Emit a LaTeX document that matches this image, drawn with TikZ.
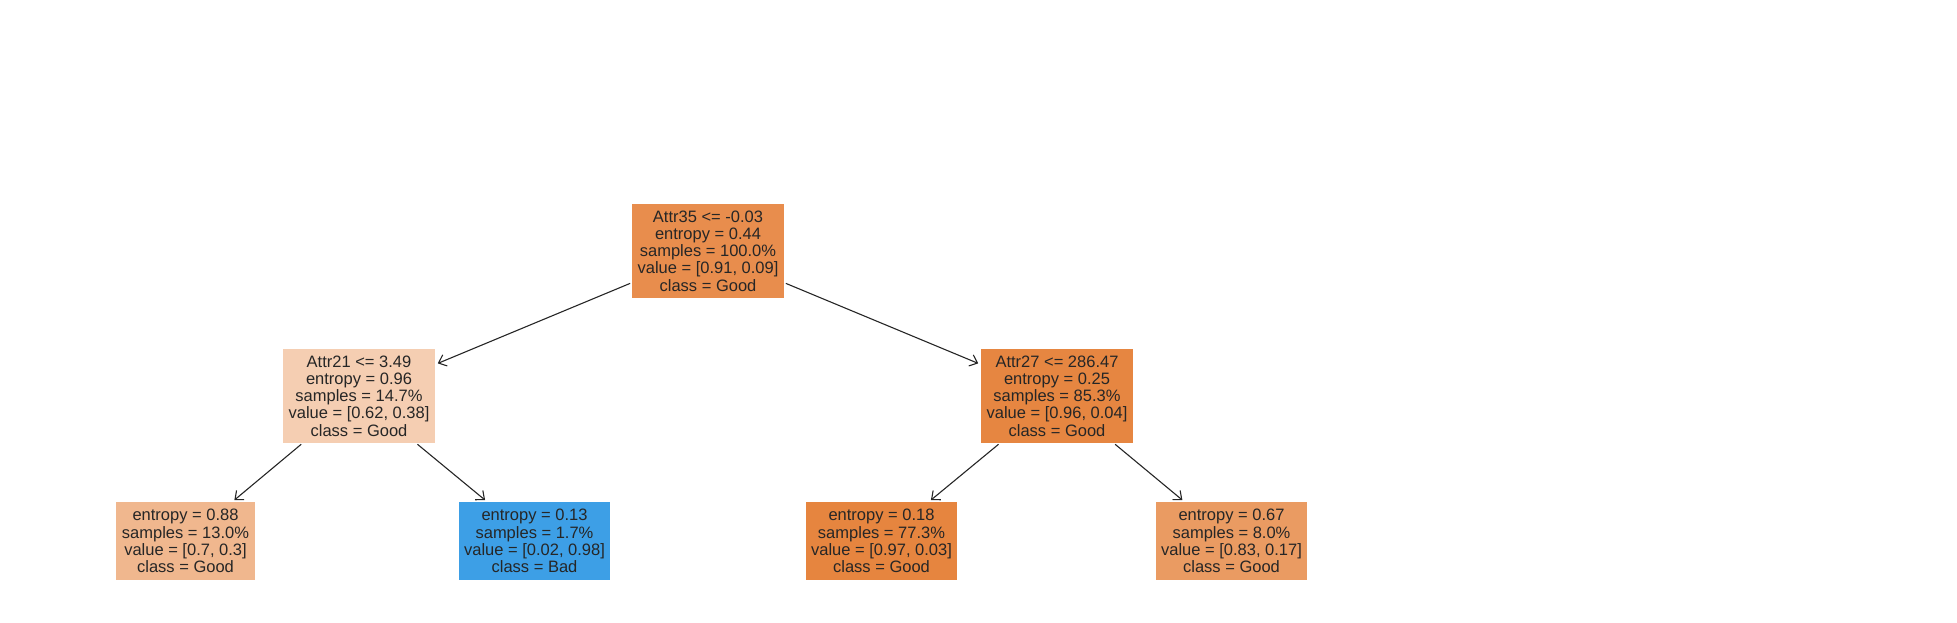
\documentclass[tikz,border=0pt]{standalone}
\usepackage{fontspec}
\setmainfont{Liberation Sans}
\usetikzlibrary{arrows.meta}
\definecolor{txt}{RGB}{38,38,38}
\definecolor{cRoot}{RGB}{232,141,77}
\definecolor{cA}{RGB}{245,206,178}
\definecolor{cB}{RGB}{230,134,65}
\definecolor{cLa}{RGB}{240,183,142}
\definecolor{cLb}{RGB}{61,159,230}
\definecolor{cLc}{RGB}{230,133,63}
\definecolor{cLd}{RGB}{234,155,98}
\begin{document}
\begin{tikzpicture}[x=1pt,y=-1pt,
  box/.style={draw=none, fill=#1, inner sep=0pt, outer sep=0pt, align=center,
    text=txt, font=\fontsize{16.5}{17.3}\selectfont,
    minimum width=152pt, minimum height=94pt},
  leaf/.style={box=#1, minimum height=78pt, minimum width=151pt},
  edge/.style={draw=txt, line width=1.1pt,
    -{Straight Barb[length=7pt,width=12pt]}, shorten >=3pt, shorten <=2pt}]
\useasboundingbox (0,0) rectangle (1957,623);
\node[box=cRoot] (root) at (708,251) {Attr35 <= -0.03\\entropy = 0.44\\samples = 100.0\%\\value = [0.91, 0.09]\\class = Good};
\node[box=cA] (a21) at (359,396) {Attr21 <= 3.49\\entropy = 0.96\\samples = 14.7\%\\value = [0.62, 0.38]\\class = Good};
\node[box=cB] (a27) at (1057,396) {Attr27 <= 286.47\\entropy = 0.25\\samples = 85.3\%\\value = [0.96, 0.04]\\class = Good};
\node[leaf=cLa, minimum width=139pt] (l1) at (185.5,541) {entropy = 0.88\\samples = 13.0\%\\value = [0.7, 0.3]\\class = Good};
\node[leaf=cLb] (l2) at (534.5,541) {entropy = 0.13\\samples = 1.7\%\\value = [0.02, 0.98]\\class = Bad};
\node[leaf=cLc] (l3) at (881.5,541) {entropy = 0.18\\samples = 77.3\%\\value = [0.97, 0.03]\\class = Good};
\node[leaf=cLd] (l4) at (1231.5,541) {entropy = 0.67\\samples = 8.0\%\\value = [0.83, 0.17]\\class = Good};
\draw[edge] (root) -- (a21);
\draw[edge] (root) -- (a27);
\draw[edge] (a21) -- (l1);
\draw[edge] (a21) -- (l2);
\draw[edge] (a27) -- (l3);
\draw[edge] (a27) -- (l4);
\end{tikzpicture}
\end{document}
